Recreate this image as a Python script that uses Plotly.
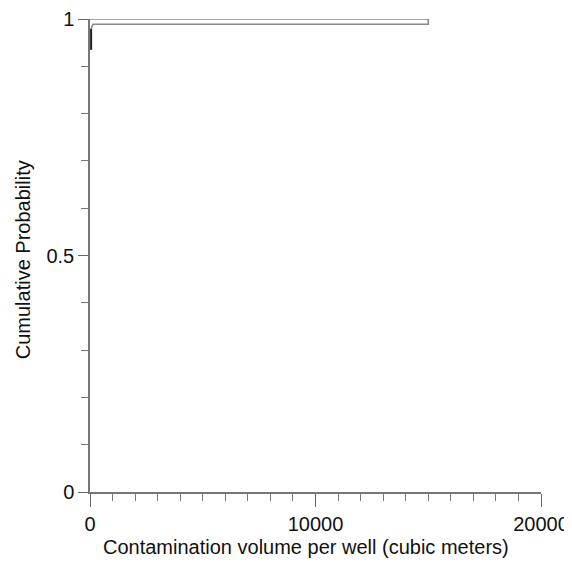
import plotly.graph_objects as go

# CDF outline path (contamination volume, cumulative probability)
cdf_x = [50, 50, 130, 15000, 15000, 0]
cdf_y = [0.935, 0.979, 0.989, 0.989, 1.0, 1.0]
# dark lower segment of the steep rise
rise_x = [50, 50]
rise_y = [0.935, 0.979]

x_ticks = [0, 10000, 20000]
x_tick_labels = ["0", "10000", "20000"]
y_ticks = [0, 0.5, 1]
y_tick_labels = ["0", "0.5", "1"]

x_title = "Contamination volume per well (cubic meters)"
y_title = "Cumulative Probability"

fig = go.Figure()
fig.add_trace(go.Scatter(x=cdf_x, y=cdf_y, mode="lines",
                         line=dict(color="#8a8a8a", width=1.6),
                         cliponaxis=False, showlegend=False))
fig.add_trace(go.Scatter(x=rise_x, y=rise_y, mode="lines",
                         line=dict(color="#222222", width=2),
                         cliponaxis=False, showlegend=False))

font = dict(family="Liberation Sans, Arial, sans-serif", size=20, color="#111111")
fig.update_layout(
    width=564, height=563,
    margin=dict(l=82, r=31, t=11, b=79),
    paper_bgcolor="white", plot_bgcolor="white",
    font=font,
    xaxis=dict(range=[0, 20000], tickvals=x_ticks, ticktext=x_tick_labels,
               automargin=False,
               showgrid=False, zeroline=False, showline=True,
               linecolor="#777777", linewidth=1.5,
               ticks="outside", ticklen=13, tickwidth=1.3, tickcolor="#666666",
               minor=dict(dtick=1000, ticks="outside", ticklen=7,
                          tickcolor="#777777", tickwidth=1.2, showgrid=False)),
    yaxis=dict(range=[0, 1], tickvals=y_ticks, ticktext=y_tick_labels,
               automargin=False,
               showgrid=False, zeroline=False, showline=True,
               linecolor="#777777", linewidth=1.5,
               ticks="outside", ticklen=10, tickwidth=1.3, tickcolor="#666666",
               minor=dict(dtick=0.1, ticks="outside", ticklen=7,
                          tickcolor="#777777", tickwidth=1.2, showgrid=False)),
    annotations=[
        dict(text=x_title, xref="paper", yref="paper", x=0.48, y=0,
             yshift=-55, showarrow=False, font=font, yanchor="middle"),
        dict(text=y_title, xref="paper", yref="paper", x=0, y=0.49,
             xshift=-67, showarrow=False, font=font, textangle=-90,
             xanchor="center"),
    ],
)
fig.write_html("out.html")
